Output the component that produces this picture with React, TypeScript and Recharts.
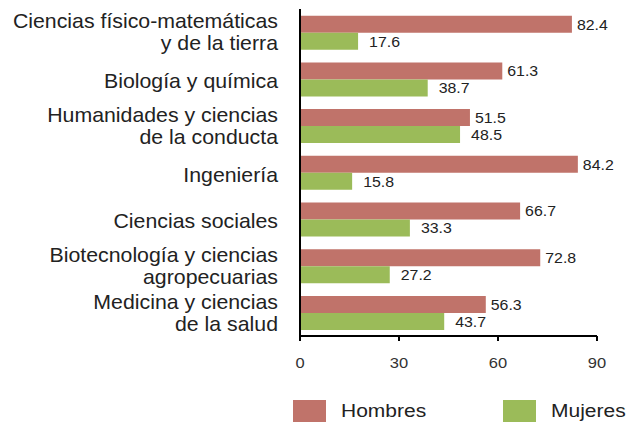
import { BarChart, Bar, XAxis, YAxis, Legend, LabelList } from 'recharts'

const categories = [
  'Ciencias físico-matemáticas\ny de la tierra',
  'Biología y química',
  'Humanidades y ciencias\nde la conducta',
  'Ingeniería',
  'Ciencias sociales',
  'Biotecnología y ciencias\nagropecuarias',
  'Medicina y ciencias\nde la salud',
]
const hombres = [82.4, 61.3, 51.5, 84.2, 66.7, 72.8, 56.3]
const mujeres = [17.6, 38.7, 48.5, 15.8, 33.3, 27.2, 43.7]
const xTicks = [0, 30, 60, 90]

const RED = '#C0736A'
const GREEN = '#9BBB59'
const FONT = '"Liberation Sans", Arial, sans-serif'

const data = categories.map((name, i) => ({
  name,
  hombres: hombres[i],
  mujeres: mujeres[i],
}))

// etiquetas de categoría en varias líneas, alineadas a la derecha
function CategoryTick(props: any) {
  const { x, y, payload } = props
  const lines: string[] = String(payload.value).split('\n')
  const lh = 22
  const first = lines.length > 1 ? -((lines.length - 1) * lh) / 2 + 7 : 9
  return (
    <text
      transform={`translate(${x} ${y}) scale(1.065 1)`}
      x={0}
      y={0}
      textAnchor="end"
      fontSize={20}
      fill="#222"
      fontFamily={FONT}
    >
      {lines.map((l, i) => (
        <tspan key={i} x={0} dy={i === 0 ? first : lh}>
          {l}
        </tspan>
      ))}
    </text>
  )
}

function NumberTick(props: any) {
  const { x, y, payload } = props
  return (
    <text
      transform={`translate(${x} ${y}) scale(1.1 1)`}
      x={0}
      y={0}
      dy="0.71em"
      textAnchor="middle"
      fontSize={15}
      fill="#333"
      fontFamily={FONT}
    >
      {payload.value}
    </text>
  )
}

function valueLabel(offset: number) {
  return (props: any) => {
    const { x, y, width, height, value } = props
    return (
      <text
        transform={`translate(${x + width + offset} ${y + height / 2}) scale(1.06 1)`}
        x={0}
        y={0}
        dy="0.36em"
        textAnchor="start"
        fontSize={15}
        fill="#222"
        fontFamily={FONT}
      >
        {value}
      </text>
    )
  }
}

function LegendContent() {
  const items = [
    { label: 'Hombres', color: RED },
    { label: 'Mujeres', color: GREEN },
  ]
  return (
    <div style={{ display: 'flex', alignItems: 'center', fontFamily: FONT, fontSize: 17.5, color: '#222' }}>
      {items.map((it, i) => (
        <div key={it.label} style={{ display: 'flex', alignItems: 'center', width: i === 0 ? 210 : 124 }}>
          <span style={{ width: 33, height: 22, background: it.color, marginRight: 15, display: 'inline-block' }} />
          <span style={{ display: 'inline-block', transform: 'scaleX(1.2)', transformOrigin: 'left center' }}>
            {it.label}
          </span>
        </div>
      ))}
    </div>
  )
}

export default function App() {
  return (
    <div style={{ position: 'absolute', left: 0, top: 0, background: '#fff' }}>
      <BarChart
        width={628}
        height={423}
        data={data}
        layout="vertical"
        margin={{ top: 9, right: 31, bottom: 37, left: 0 }}
        barCategoryGap="14.3%"
        barGap={0}
      >
        <XAxis
          type="number"
          domain={[0, 90]}
          ticks={xTicks}
          height={50}
          axisLine={{ stroke: '#000', strokeWidth: 2 }}
          tickLine={{ stroke: '#000', strokeWidth: 2 }}
          tickSize={5}
          tickMargin={16}
          tick={<NumberTick />}
        />
        <YAxis
          type="category"
          dataKey="name"
          width={300}
          axisLine={{ stroke: '#000', strokeWidth: 2 }}
          tickLine={false}
          tickSize={0}
          tickMargin={22}
          tick={<CategoryTick />}
          interval={0}
        />
        <Legend
          layout="vertical"
          align="center"
          verticalAlign="middle"
          content={<LegendContent />}
          wrapperStyle={{ left: 293, top: 400, width: 335 }}
        />
        <Bar dataKey="hombres" name="Hombres" fill={RED} isAnimationActive={false}>
          <LabelList dataKey="hombres" content={valueLabel(5)} />
        </Bar>
        <Bar dataKey="mujeres" name="Mujeres" fill={GREEN} isAnimationActive={false}>
          <LabelList dataKey="mujeres" content={valueLabel(11)} />
        </Bar>
      </BarChart>
    </div>
  )
}
